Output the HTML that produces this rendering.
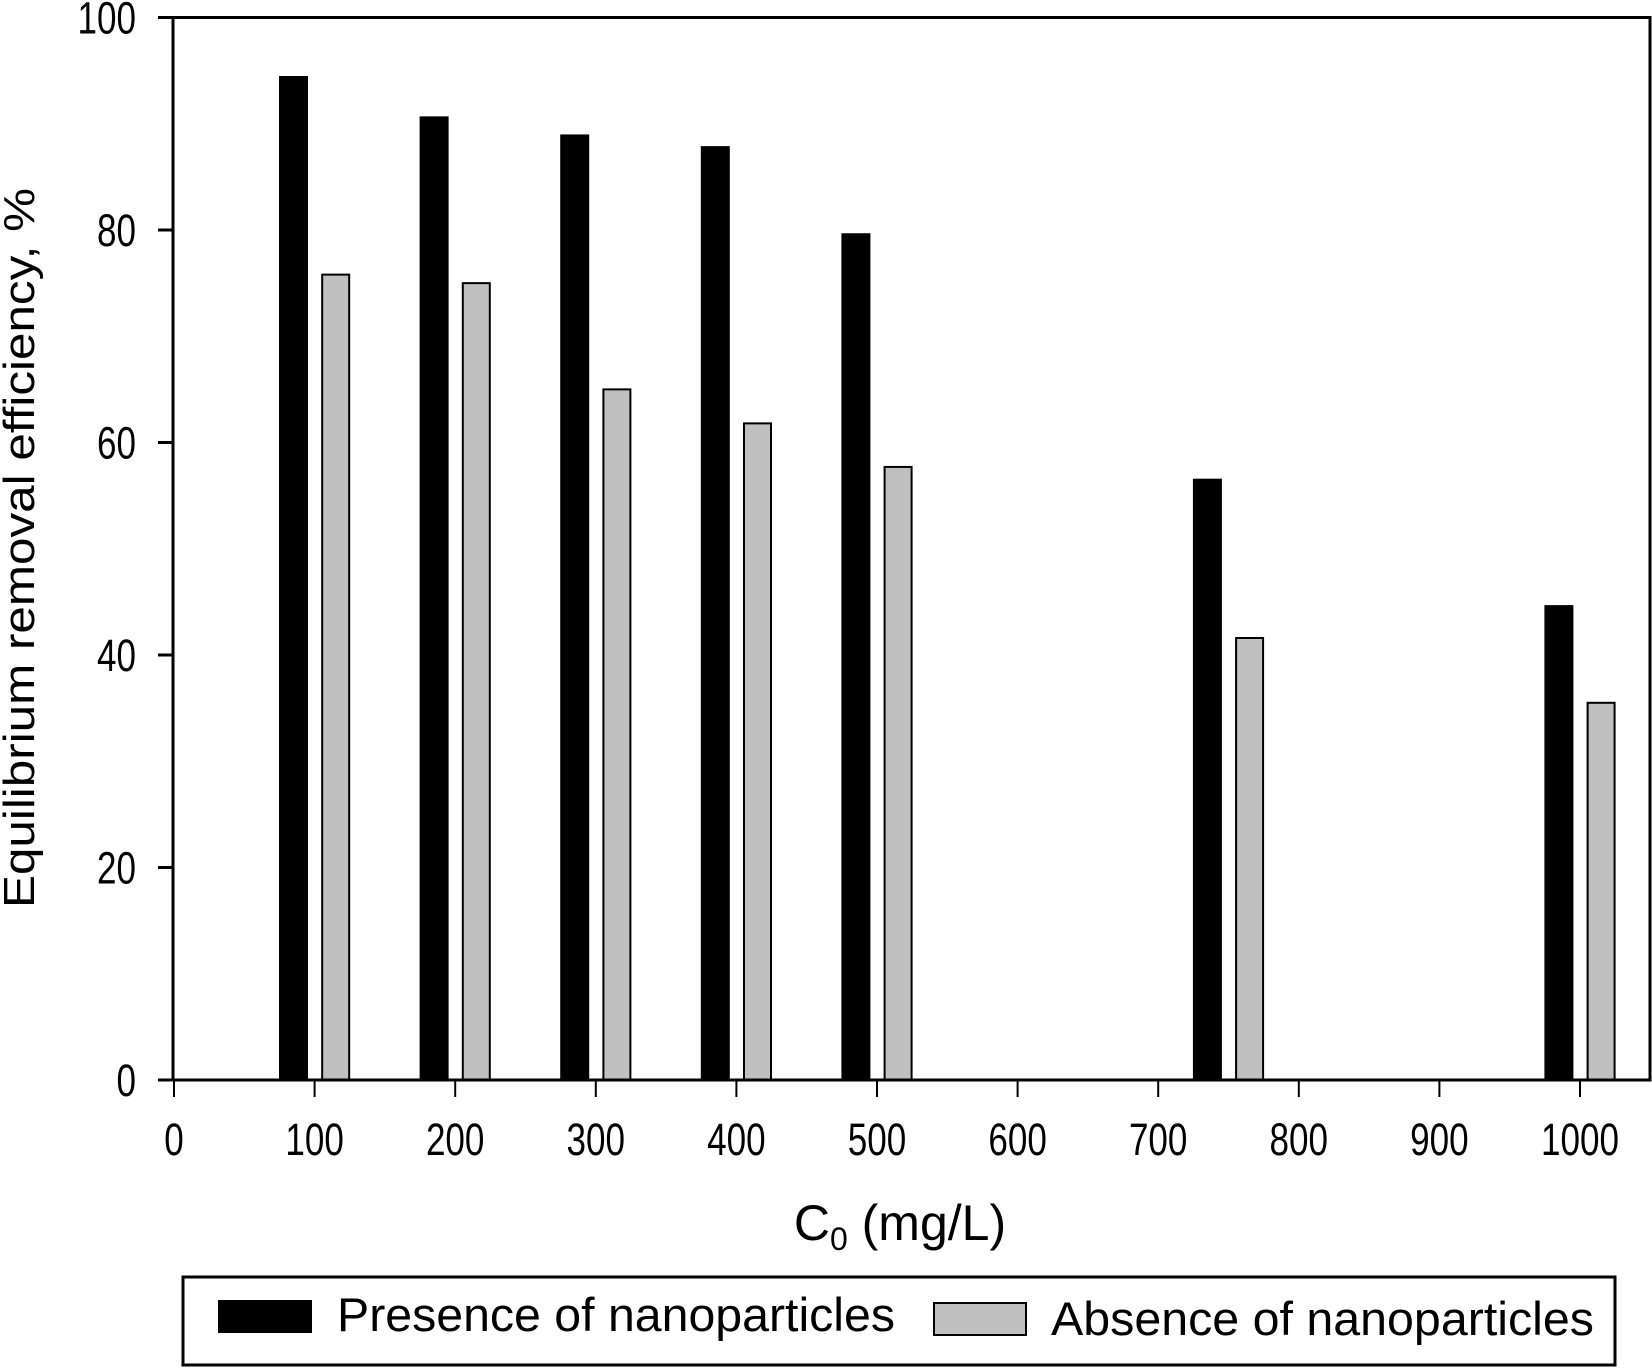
<!DOCTYPE html>
<html><head><meta charset="utf-8"><style>
html,body{margin:0;padding:0;background:#fff;}
svg{display:block;font-family:"Liberation Sans",Arial,sans-serif;}
</style></head><body>
<svg id="chart" width="1652" height="1368" viewBox="0 0 1652 1368" xmlns="http://www.w3.org/2000/svg">
<g id="plot"></g>
</svg>
<script>
const categories = [100, 200, 300, 400, 500, 750, 1000];
const presence = [94.4, 90.6, 88.9, 87.8, 79.6, 56.5, 44.6];
const absence = [75.8, 75.0, 65.0, 61.8, 57.7, 41.6, 35.5];
const yTicks = [0, 20, 40, 60, 80, 100];
const xTicks = [0, 100, 200, 300, 400, 500, 600, 700, 800, 900, 1000];

const NS = 'http://www.w3.org/2000/svg';
const g = document.getElementById('plot');
const L = 173, R = 1650, T = 17.5, B = 1080;
const xs = v => 174 + v * 1.406;
const ys = v => B - v * (B - T) / 100;
function mk(tag, attrs, txt) {
  const e = document.createElementNS(NS, tag);
  for (const k in attrs) e.setAttribute(k, attrs[k]);
  if (txt !== undefined) e.textContent = txt;
  g.appendChild(e);
  return e;
}
const bw = 27;
categories.forEach((c, i) => {
  const b1 = mk('rect', {x: xs(c - 15) - bw/2, y: ys(presence[i]), width: bw, height: B - ys(presence[i]), fill: '#000', stroke: '#000', 'stroke-width': 2});
  
  
  const b2 = mk('rect', {x: xs(c + 15) - bw/2, y: ys(absence[i]), width: bw, height: B - ys(absence[i]), fill: '#c0c0c0', stroke: '#000', 'stroke-width': 2});
  
  
});
const fr = mk('rect', {x: L, y: T, width: R - L, height: B - T, fill: 'none', stroke: '#000', 'stroke-width': 3});


yTicks.forEach(v => {
  const y = ys(v);
  mk('line', {x1: 158, x2: L, y1: y, y2: y, stroke: '#000', 'stroke-width': 3});
  const s = String(v);
  const t = mk('text', {x: 136, y: y + 16, 'text-anchor': 'end', 'font-size': 45, textLength: s.length * 19.5, lengthAdjust: 'spacingAndGlyphs'}, s);
  
  
});
xTicks.forEach(v => {
  const x = xs(v);
  mk('line', {x1: x, x2: x, y1: B, y2: B + 17, stroke: '#000', 'stroke-width': 2});
  const s = String(v);
  const t = mk('text', {x: x, y: 1155, 'text-anchor': 'middle', 'font-size': 45, textLength: s.length * 19.5, lengthAdjust: 'spacingAndGlyphs'}, s);
  
  
});
const xt = mk('text', {x: 900, y: 1240, 'text-anchor': 'middle', 'font-size': 50});


xt.innerHTML = 'C<tspan font-size="32" dy="10">0</tspan><tspan dy="-10"> (mg/L)</tspan>';
const yt = mk('text', {x: 0, y: 0, 'text-anchor': 'middle', 'font-size': 44, transform: 'translate(34,548) rotate(-90)', textLength: 720, lengthAdjust: 'spacingAndGlyphs'}, 'Equilibrium removal efficiency, %');


const lg = mk('rect', {x: 183, y: 1277, width: 1432, height: 88, fill: '#fff', stroke: '#000', 'stroke-width': 3});


const s1 = mk('rect', {x: 218, y: 1300, width: 94, height: 33, fill: '#000'});


const l1 = mk('text', {x: 337, y: 1331, 'font-size': 47, textLength: 558, lengthAdjust: 'spacingAndGlyphs'}, 'Presence of nanoparticles');


const s2 = mk('rect', {x: 934, y: 1303, width: 92, height: 32, fill: '#c0c0c0', stroke: '#000', 'stroke-width': 2});


const l2 = mk('text', {x: 1051, y: 1335, 'font-size': 47, textLength: 543, lengthAdjust: 'spacingAndGlyphs'}, 'Absence of nanoparticles');


</script>
</body></html>
